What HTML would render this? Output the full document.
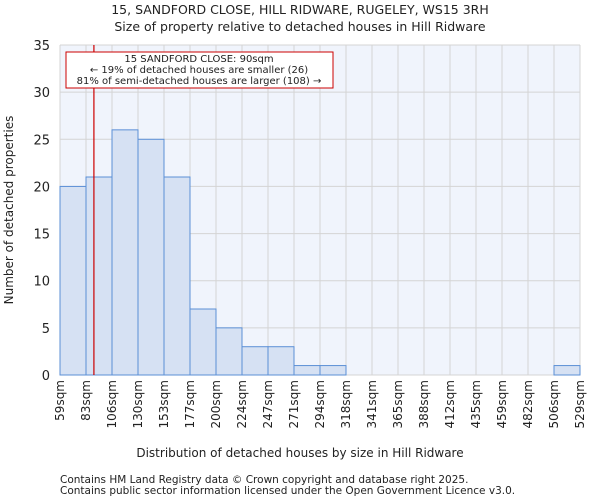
<!DOCTYPE html>
<html><head><meta charset="utf-8"><style>
body{margin:0;background:#fff;font-family:"DejaVu Sans","Liberation Sans",sans-serif}
svg text{font-family:"DejaVu Sans","Liberation Sans",sans-serif;fill:#222}
</style></head><body>
<svg id="c" width="600" height="500" xmlns="http://www.w3.org/2000/svg">
<text x="300" y="14" font-size="12.5" text-anchor="middle">15, SANDFORD CLOSE, HILL RIDWARE, RUGELEY, WS15 3RH</text>
<text x="300" y="31" font-size="12.5" text-anchor="middle">Size of property relative to detached houses in Hill Ridware</text>
<rect x="60" y="45" width="520" height="330" fill="#f0f4fc"/>
<g id="grid"></g><g id="bars"></g><g id="xt"></g><g id="yt"></g>
<text x="300" y="457" font-size="12" text-anchor="middle">Distribution of detached houses by size in Hill Ridware</text>
<text transform="translate(13,210) rotate(-90)" font-size="12" text-anchor="middle">Number of detached properties</text>
<line id="marker" y1="45" y2="375" stroke="#cc0000" stroke-width="1.2"/>
<g>
<rect x="66" y="52" width="267" height="36" fill="#fff" stroke="#cc0000" stroke-width="1"/>
<text x="199" y="62" font-size="10" text-anchor="middle">15 SANDFORD CLOSE: 90sqm</text>
<text x="199" y="73" font-size="10" text-anchor="middle">← 19% of detached houses are smaller (26)</text>
<text x="199" y="84" font-size="10" text-anchor="middle">81% of semi-detached houses are larger (108) →</text>
</g>
<text x="60" y="483" font-size="10.5">Contains HM Land Registry data © Crown copyright and database right 2025.</text>
<text x="60" y="494" font-size="10.5">Contains public sector information licensed under the Open Government Licence v3.0.</text>
</svg>
<script>
const edges=[59,83,106,130,153,177,200,224,247,271,294,318,341,365,388,412,435,459,482,506,529];
const counts=[20,21,26,25,21,7,5,3,3,1,1,0,0,0,0,0,0,0,0,1];
const yTicks=[0,5,10,15,20,25,30,35];
const propertySize=90;
const NS="http://www.w3.org/2000/svg";
const X0=60,W=520,Y0=375,H=330,YMAX=35;
const bw=W/counts.length;
function xIdx(i){return X0+i*bw;}
function xVal(v){for(let i=0;i<edges.length-1;i++){if(v<=edges[i+1])return xIdx(i)+bw*(v-edges[i])/(edges[i+1]-edges[i]);}return X0+W;}
function y(v){return Y0-v/YMAX*H;}
function mk(t,a,p){const e=document.createElementNS(NS,t);for(const k in a)e.setAttribute(k,a[k]);p.appendChild(e);return e;}
const grid=document.getElementById('grid'),bars=document.getElementById('bars'),xt=document.getElementById('xt'),yt=document.getElementById('yt');
edges.forEach((e,i)=>{const l=mk('line',{x1:xIdx(i),x2:xIdx(i),y1:45,y2:375,stroke:'#d4d4d4'},grid);


const t=mk('text',{transform:`translate(${xIdx(i)+4},380) rotate(-90)`,'font-size':12,'text-anchor':'end'},xt);t.textContent=e+'sqm';

});
yTicks.forEach(v=>{const l=mk('line',{x1:60,x2:580,y1:y(v),y2:y(v),stroke:'#d4d4d4'},grid);


const t=mk('text',{x:50,y:y(v)+5,'font-size':13,'text-anchor':'end'},yt);t.textContent=v;

});
counts.forEach((c,i)=>{if(c<=0)return;const r=mk('rect',{x:xIdx(i),y:y(c),width:bw,height:Y0-y(c),fill:'#d6e1f3',stroke:'#5b8fd6','stroke-width':1},bars);

});
const m=document.getElementById('marker');const mx=xVal(propertySize);m.setAttribute('x1',mx);m.setAttribute('x2',mx);
</script>
</body></html>
